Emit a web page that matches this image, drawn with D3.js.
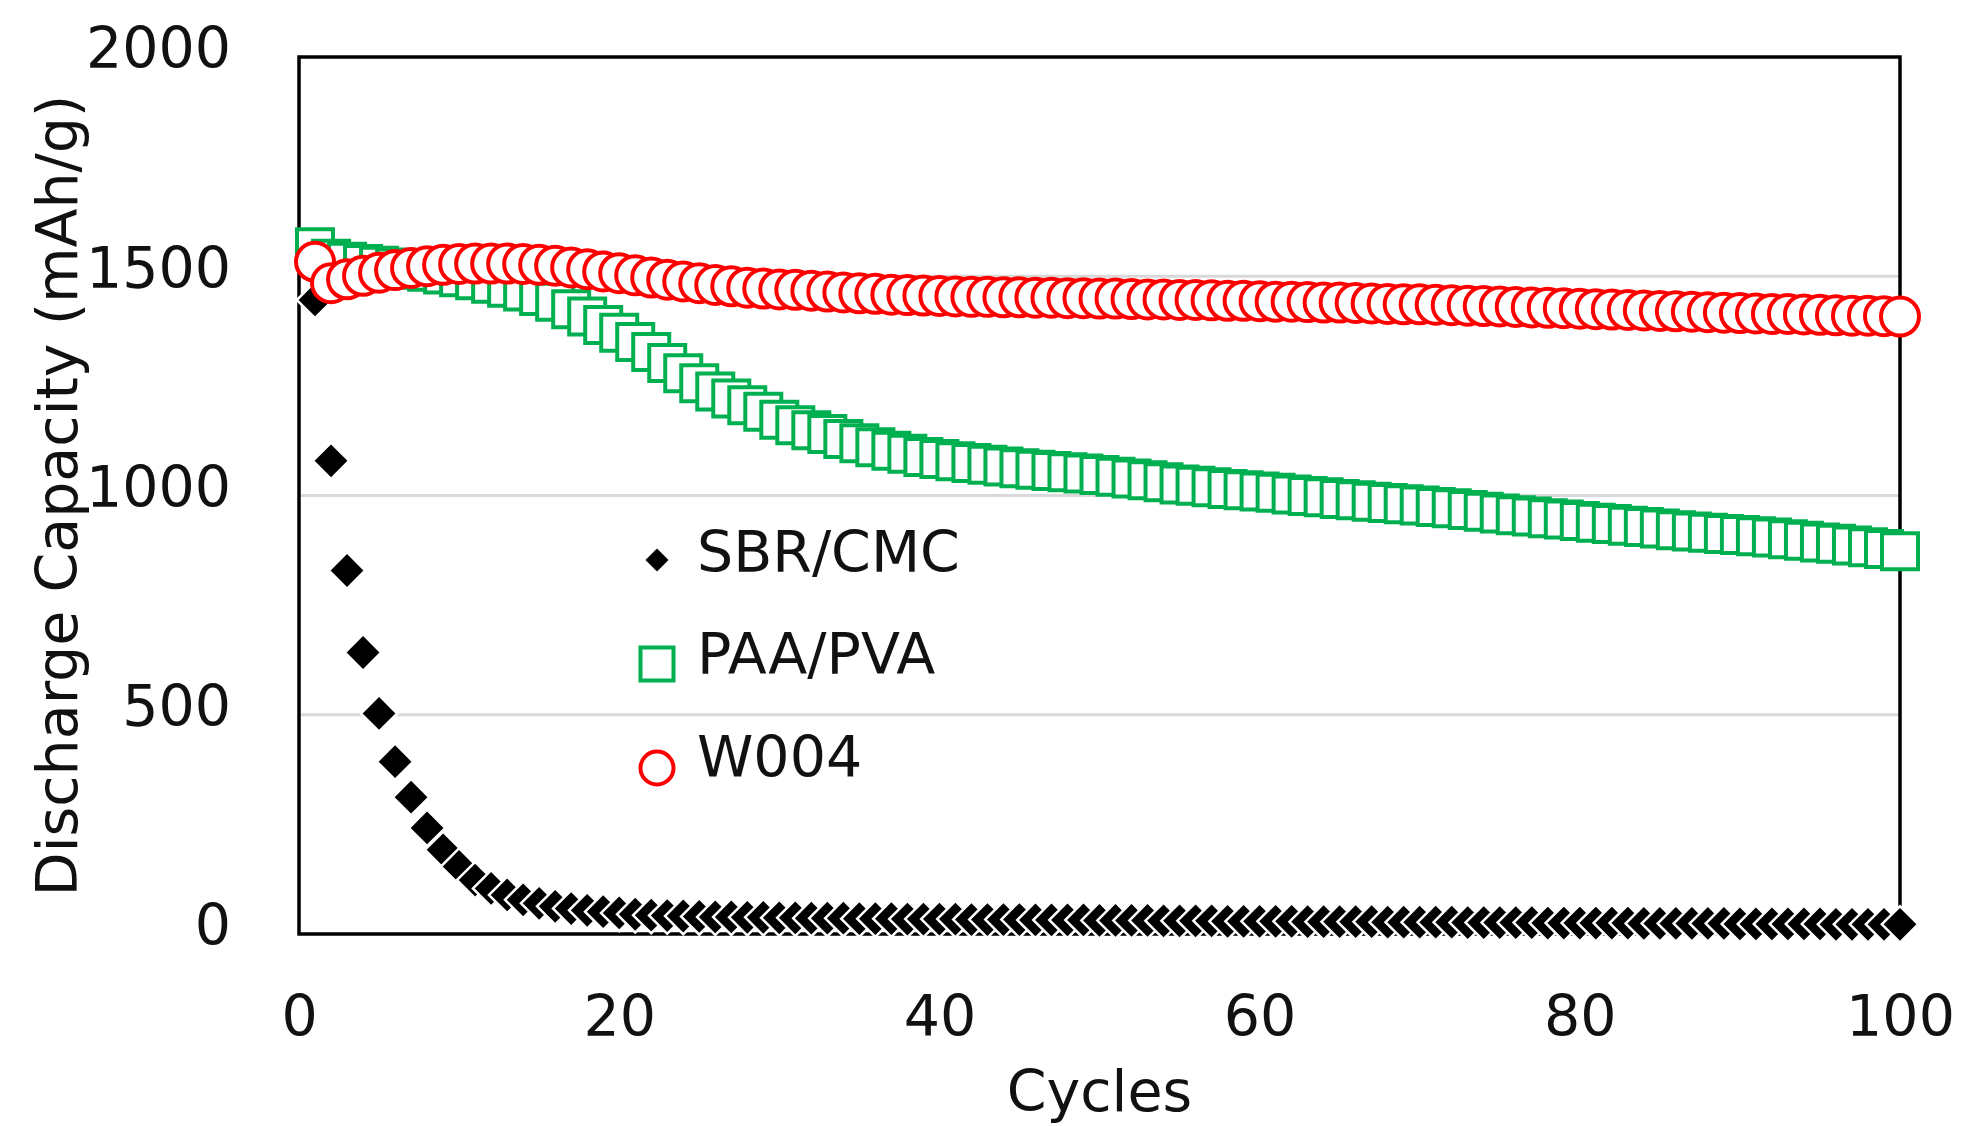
<!DOCTYPE html>
<html>
<head>
<meta charset="utf-8">
<script src="https://cdn.jsdelivr.net/npm/d3@7"></script>
<style>
  html, body { margin: 0; padding: 0; background: #fff; }
  svg { display: block; }
  text { font-family: "DejaVu Sans", Verdana, sans-serif; fill: #111; }
</style>
</head>
<body>
<svg id="chart" width="1985" height="1126"></svg>
<script>
// ---------------- DATA ----------------
const cycles = [1,2,3,4,5,6,7,8,9,10,11,12,13,14,15,16,17,18,19,20,
  21,22,23,24,25,26,27,28,29,30,31,32,33,34,35,36,37,38,39,40,
  41,42,43,44,45,46,47,48,49,50,51,52,53,54,55,56,57,58,59,60,
  61,62,63,64,65,66,67,68,69,70,71,72,73,74,75,76,77,78,79,80,
  81,82,83,84,85,86,87,88,89,90,91,92,93,94,95,96,97,98,99,100];

const sbrCmc = [1446,1079,829,642,503,393,312,242,192,154,
  123,104,89,78,70,63,58,54,51,48,
  45,43,42,41,40,39,39,38,38,37,
  37,36,36,36,35,35,35,34,34,34,
  34,33,33,33,33,32,32,32,32,31,
  31,31,31,30,30,30,30,29,29,29,
  29,29,28,28,28,28,28,27,27,27,
  27,27,26,26,26,26,26,25,25,25,
  25,25,25,24,24,24,24,24,24,23,
  23,23,23,23,23,22,22,22,22,22];

const paaPva = [1566,1540,1533,1528,1524,1520,1515,1510,1504,1498,
  1491,1483,1474,1465,1455,1442,1425,1408,1389,1371,
  1350,1327,1302,1279,1256,1237,1221,1206,1191,1173,
  1160,1149,1140,1129,1119,1110,1102,1095,1088,1083,
  1078,1074,1070,1066,1062,1059,1056,1053,1050,1047,
  1043,1039,1035,1030,1025,1022,1019,1015,1012,1009,
  1006,1002,999,996,992,989,986,983,980,977,
  974,971,967,963,959,955,952,948,945,942,
  938,935,931,928,925,921,918,915,912,910,
  907,904,900,897,893,890,886,882,878,873];

const w004 = [1533,1484,1493,1501,1508,1514,1519,1523,1526,1528,
  1529,1529,1529,1528,1526,1524,1520,1516,1511,1507,
  1502,1497,1492,1488,1484,1480,1477,1474,1472,1470,
  1469,1467,1465,1463,1461,1460,1458,1457,1456,1455,
  1454,1453,1453,1452,1452,1451,1451,1450,1450,1449,
  1449,1448,1447,1447,1446,1446,1445,1444,1444,1443,
  1442,1442,1441,1440,1440,1439,1438,1437,1436,1436,
  1435,1434,1433,1432,1431,1430,1429,1428,1427,1426,
  1425,1424,1423,1422,1421,1420,1419,1418,1417,1416,
  1415,1414,1414,1413,1412,1411,1410,1410,1409,1408];

const seriesNames = ["SBR/CMC", "PAA/PVA", "W004"];
const xTicks = [0, 20, 40, 60, 80, 100];
const yTicks = [0, 500, 1000, 1500, 2000];
const gridValues = [500, 1000, 1500];
const xTitle = "Cycles";
const yTitle = "Discharge Capacity (mAh/g)";

// ---------------- LAYOUT ----------------
const svg = d3.select("#chart");
const plot = { left: 299, right: 1900, top: 57, bottom: 934 };
const FONT = 57;

const x = d3.scaleLinear().domain([0, 100]).range([plot.left, plot.right]);
const y = d3.scaleLinear().domain([0, 2000]).range([plot.bottom, plot.top]);

// gridlines
svg.append("g").selectAll("line").data(gridValues).join("line")
  .attr("x1", plot.left).attr("x2", plot.right)
  .attr("y1", d => y(d)).attr("y2", d => y(d))
  .attr("stroke", "#d9d9d9").attr("stroke-width", 3);

// frame
svg.append("rect")
  .attr("x", plot.left).attr("y", plot.top)
  .attr("width", plot.right - plot.left).attr("height", plot.bottom - plot.top)
  .attr("fill", "none").attr("stroke", "#000").attr("stroke-width", 3.5);

// y axis
const yAxis = svg.append("g")
  .attr("transform", `translate(${plot.left},0)`)
  .call(d3.axisLeft(y).tickValues(yTicks).tickSize(0).tickPadding(68).tickFormat(d3.format("d")));
yAxis.select(".domain").remove();
yAxis.selectAll("text")
  .attr("dy", "0.19em")
  .style("font-size", FONT + "px")
  .style("font-family", "'DejaVu Sans', Verdana, sans-serif")
  .attr("fill", "#111");

// x axis
const xAxis = svg.append("g")
  .attr("transform", `translate(0,${plot.bottom})`)
  .call(d3.axisBottom(x).tickValues(xTicks).tickSize(0).tickPadding(0).tickFormat(d3.format("d")));
xAxis.select(".domain").remove();
xAxis.selectAll("text")
  .attr("y", 102).attr("dy", 0)
  .style("font-size", FONT + "px")
  .style("font-family", "'DejaVu Sans', Verdana, sans-serif")
  .attr("fill", "#111");

// axis titles
svg.append("text")
  .attr("transform", `translate(77,${(plot.top + plot.bottom) / 2}) rotate(-90)`)
  .attr("text-anchor", "middle")
  .style("font-size", FONT + "px")
  .text(yTitle);

svg.append("text")
  .attr("x", (plot.left + plot.right) / 2).attr("y", 1111)
  .attr("text-anchor", "middle")
  .style("font-size", FONT + "px")
  .text(xTitle);

// ---------------- SERIES ----------------
const diamond = d3.symbol().type(d3.symbolSquare).size(660);
const square = d3.symbol().type(d3.symbolSquare).size(1296);
const circle = d3.symbol().type(d3.symbolCircle).size(Math.PI * 19 * 19);

const series = [
  { name: seriesNames[0], values: sbrCmc, path: diamond(), rot: 45, fill: "#000", stroke: "#fff", sw: 2.5 },
  { name: seriesNames[1], values: paaPva, path: square(), rot: 0, fill: "#fff", stroke: "#00b050", sw: 4 },
  { name: seriesNames[2], values: w004, path: circle(), rot: 0, fill: "#fff", stroke: "#ff0000", sw: 4 }
];

series.forEach(s => {
  svg.append("g").attr("class", "series")
    .selectAll("path")
    .data(cycles.map((c, i) => ({ c, v: s.values[i] })))
    .join("path")
    .attr("d", s.path)
    .attr("transform", d => `translate(${x(d.c)},${y(d.v)}) rotate(${s.rot})`)
    .attr("fill", s.fill)
    .attr("stroke", s.stroke)
    .attr("stroke-width", s.sw);
});

// ---------------- LEGEND ----------------
const legend = [
  { name: seriesNames[0], path: d3.symbol().type(d3.symbolSquare).size(265)(), rot: 45, fill: "#000", stroke: "none", sw: 0, cy: 560, ty: 572 },
  { name: seriesNames[1], path: d3.symbol().type(d3.symbolSquare).size(1089)(), rot: 0, fill: "#fff", stroke: "#00b050", sw: 4, cy: 664, ty: 674 },
  { name: seriesNames[2], path: d3.symbol().type(d3.symbolCircle).size(Math.PI * 16.5 * 16.5)(), rot: 0, fill: "#fff", stroke: "#ff0000", sw: 4, cy: 768, ty: 777 }
];
const lg = svg.append("g");
legend.forEach(l => {
  lg.append("path")
    .attr("d", l.path)
    .attr("transform", `translate(657,${l.cy}) rotate(${l.rot})`)
    .attr("fill", l.fill).attr("stroke", l.stroke).attr("stroke-width", l.sw);
  lg.append("text")
    .attr("x", 697).attr("y", l.ty)
    .style("font-size", FONT + "px")
    .text(l.name);
});
</script>
</body>
</html>
